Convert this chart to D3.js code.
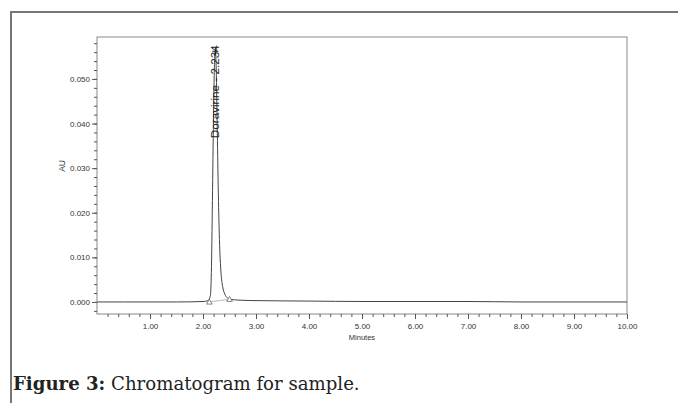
<!DOCTYPE html>
<html>
<head>
<meta charset="utf-8">
<script src="https://cdn.jsdelivr.net/npm/d3@7"></script>
<style>
  body { margin: 0; background: #fff; }
  svg { display: block; }
  .tick text { font-family: "Liberation Sans", Arial, sans-serif; font-size: 8px; fill: #333; }
  .axis path, .axis line { stroke: #555; }
</style>
</head>
<body>
<div id="chart"></div>
<script>
// chromatogram trace (minutes, AU)
var times = [0, 0.5, 1.0, 1.5, 2.0, 2.10, 2.14, 2.16, 2.18, 2.20, 2.22, 2.234, 2.25, 2.27, 2.29, 2.31,
             2.34, 2.37, 2.41, 2.46, 2.50, 2.7, 3.0, 4.0, 5.0, 6.0, 7.0, 8.0, 9.0, 10.0];
var au = [0.0000, 0.0000, 0.0000, 0.0000, 0.0001, 0.0003, 0.0015, 0.008, 0.025, 0.043, 0.0545, 0.0562, 0.052,
          0.038, 0.024, 0.014, 0.0065, 0.0035, 0.0018, 0.0009, 0.0006, 0.0004, 0.0003, 0.0002, 0.0001,
          0.0001, 0.0001, 0.0000, 0.0000, 0.0000];

var peakName = 'Doravirine - 2.234';
var peakTime = 2.234;
var peakHeight = 0.0562;
var peakStart = [2.12, 0.0];
var peakEnd = [2.50, 0.0006];

var yTicks = [0.000, 0.010, 0.020, 0.030, 0.040, 0.050];
var xTicks = [1, 2, 3, 4, 5, 6, 7, 8, 9, 10];

var width = 678, height = 403;
var margin = {left: 97, top: 37, right: 51, bottom: 89};

var svg = d3.select('#chart').append('svg')
    .attr('width', width)
    .attr('height', height);

// outer figure frame
svg.append('path')
    .attr('d', 'M11,' + height + 'V12H' + width)
    .attr('fill', 'none')
    .attr('stroke', '#777')
    .attr('stroke-width', 2);

var x = d3.scaleLinear().domain([0, 10]).range([margin.left, width - margin.right]);
var y = d3.scaleLinear().domain([-0.0027, 0.0594]).range([height - margin.bottom, margin.top]);

// plot frame
svg.append('rect')
    .attr('x', x(0))
    .attr('y', y.range()[1])
    .attr('width', x(10) - x(0))
    .attr('height', y.range()[0] - y.range()[1])
    .attr('fill', 'none')
    .attr('stroke', '#888')
    .attr('stroke-width', 1);

// minor ticks
var xMinor = d3.range(1, 50).map(function (d) { return d * 0.2; });
svg.append('g')
    .attr('class', 'axis')
    .attr('transform', 'translate(0,' + y.range()[0] + ')')
    .call(d3.axisBottom(x).tickValues(xMinor).tickSize(3).tickFormat(''))
    .select('.domain').remove();

var yMinor = d3.range(-1, 30).map(function (d) { return d * 0.002; });
svg.append('g')
    .attr('class', 'axis')
    .attr('transform', 'translate(' + x(0) + ',0)')
    .call(d3.axisLeft(y).tickValues(yMinor).tickSize(3).tickFormat(''))
    .select('.domain').remove();

// major ticks
svg.append('g')
    .attr('class', 'axis')
    .attr('transform', 'translate(0,' + y.range()[0] + ')')
    .call(d3.axisBottom(x).tickValues(xTicks).tickSize(5).tickPadding(4).tickFormat(d3.format('.2f')))
    .select('.domain').remove();

svg.append('g')
    .attr('class', 'axis')
    .attr('transform', 'translate(' + x(0) + ',0)')
    .call(d3.axisLeft(y).tickValues(yTicks).tickSize(5).tickPadding(2).tickFormat(d3.format('.3f')))
    .select('.domain').remove();

// axis titles
svg.append('text')
    .attr('x', 362)
    .attr('y', 340)
    .attr('text-anchor', 'middle')
    .style('font-family', '"Liberation Sans", Arial, sans-serif')
    .style('font-size', '7.5px')
    .style('fill', '#333')
    .text('Minutes');

svg.append('text')
    .attr('transform', 'translate(65,' + y(0.0305) + ') rotate(-90)')
    .attr('text-anchor', 'middle')
    .style('font-family', '"Liberation Sans", Arial, sans-serif')
    .style('font-size', '8.5px')
    .style('fill', '#333')
    .text('AU');

var pts = times.map(function (t, i) { return [t, au[i]]; });
var line = d3.line()
    .x(function (d) { return x(d[0]); })
    .y(function (d) { return y(d[1]); })
    .curve(d3.curveMonotoneX);

svg.append('path')
    .datum(pts)
    .attr('d', line)
    .attr('fill', 'none')
    .attr('stroke', '#444')
    .attr('stroke-width', 1);

// integration baseline and markers
svg.append('line')
    .attr('x1', x(peakStart[0])).attr('y1', y(peakStart[1]))
    .attr('x2', x(peakEnd[0])).attr('y2', y(peakEnd[1]))
    .attr('stroke', '#888')
    .attr('stroke-width', 0.6);

var tri = d3.symbol().type(d3.symbolTriangle).size(14);
[peakStart, peakEnd].forEach(function (p) {
    svg.append('path')
        .attr('d', tri)
        .attr('transform', 'translate(' + x(p[0]) + ',' + (y(p[1]) + 0.5) + ')')
        .attr('fill', '#fff')
        .attr('stroke', '#555')
        .attr('stroke-width', 0.7);
});

// apex cross
var px = x(peakTime), py = y(peakHeight);
svg.append('path')
    .attr('d', 'M' + (px - 3) + ',' + py + 'H' + (px + 3) + 'M' + px + ',' + (py - 4) + 'V' + (py + 4))
    .attr('stroke', '#222')
    .attr('stroke-width', 1);

// peak label
svg.append('text')
    .attr('transform', 'translate(' + (px + 4) + ',' + (py - 6) + ') rotate(-90)')
    .attr('text-anchor', 'end')
    .style('font-family', '"Liberation Sans", Arial, sans-serif')
    .style('font-size', '11.7px')
    .style('fill', '#222')
    .text(peakName);

// caption, sized to the reference width
var cap = svg.append('text')
    .attr('x', 13)
    .attr('y', 390)
    .style('font-family', '"DejaVu Serif", "Liberation Serif", serif')
    .style('font-size', '17px')
    .style('fill', '#222');
cap.append('tspan').style('font-weight', 'bold').text('Figure 3:');
cap.append('tspan').text(' Chromatogram for sample.');
var capLen = cap.node().getComputedTextLength();
cap.style('font-size', (17 * 347 / capLen) + 'px');
</script>
</body>
</html>
